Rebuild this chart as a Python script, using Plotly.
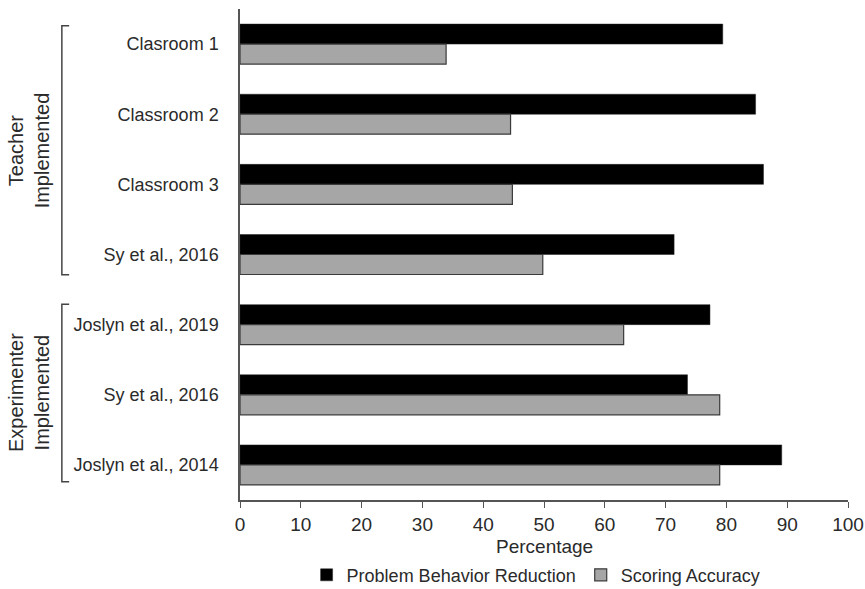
import plotly.graph_objects as go

# Categories, top to bottom
labels = ["Clasroom 1", "Classroom 2", "Classroom 3", "Sy et al., 2016",
          "Joslyn et al., 2019", "Sy et al., 2016", "Joslyn et al., 2014"]
reduction = [79.4, 84.8, 86.1, 71.4, 77.3, 73.6, 89.1]
accuracy = [33.9, 44.5, 44.8, 49.8, 63.1, 78.9, 78.9]
x_ticks = [0, 10, 20, 30, 40, 50, 60, 70, 80, 90, 100]

pos = list(range(len(labels)))
FONT = "Liberation Sans, Arial, sans-serif"
TXT = "#2a2a2a"
AX = "#555555"

fig = go.Figure()
fig.add_bar(y=pos, x=reduction, orientation="h", name="Problem Behavior Reduction",
            marker=dict(color="#000000", line=dict(color="#222222", width=0.5)))
fig.add_bar(y=pos, x=accuracy, orientation="h", name="Scoring Accuracy",
            marker=dict(color="#a6a6a6", line=dict(color="#3a3a3a", width=1.2)))

fig.update_layout(
    width=865, height=589,
    margin=dict(l=240, r=17, t=9, b=89, autoexpand=False),
    paper_bgcolor="white", plot_bgcolor="white",
    barmode="group", bargap=0.43, bargroupgap=0,
    font=dict(family=FONT, size=18, color=TXT),
    showlegend=True,
    legend=dict(orientation="h", x=0.487, xanchor="center", y=-0.153, yanchor="middle",
                font=dict(size=18, color=TXT), traceorder="normal",
                itemwidth=30, tracegroupgap=0, bgcolor="rgba(0,0,0,0)"),
)

fig.update_xaxes(range=[0, 100], tickvals=x_ticks, ticks="outside", ticklen=6,
                 tickcolor=AX, showline=True, linecolor=AX, linewidth=1.5,
                 showgrid=False, zeroline=False, automargin=False,
                 tickfont=dict(size=19, color=TXT))
fig.update_yaxes(range=[6.5, -0.5], tickvals=pos, ticktext=labels, ticks="",
                 showline=True, linecolor=AX, linewidth=1.5, showgrid=False,
                 zeroline=False, automargin=False, ticklabelstandoff=16,
                 tickfont=dict(size=18, color=TXT))

# axis title
fig.add_annotation(text="Percentage", xref="paper", yref="paper", x=0.5, y=-0.094,
                   xanchor="center", yanchor="middle", showarrow=False,
                   font=dict(size=19, color=TXT))

# group brackets
groups = [("Teacher<br>Implemented", -0.26, 3.29),
          ("Experimenter<br>Implemented", 3.71, 6.24)]
bx, sx = -0.293, -0.281
for text, y0, y1 in groups:
    fig.add_shape(type="path", xref="paper", yref="y",
                  path=f"M {sx} {y0} L {bx} {y0} L {bx} {y1} L {sx} {y1}",
                  line=dict(color="#444444", width=1.5))
    fig.add_annotation(text=text, xref="paper", yref="y", x=-0.347, y=(y0 + y1) / 2,
                       xanchor="center", yanchor="middle", textangle=-90,
                       showarrow=False, font=dict(size=20, color=TXT))

fig.write_html("out.html")
